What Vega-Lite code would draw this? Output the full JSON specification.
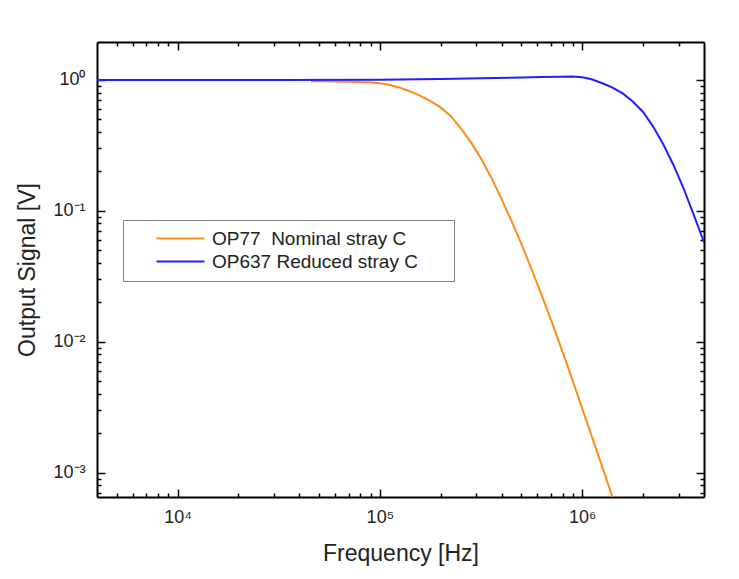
{
  "$schema": "https://vega.github.io/schema/vega-lite/v6.json",
  "width": 607,
  "height": 455,
  "autosize": "none",
  "padding": {"left": 97, "top": 42, "right": 35, "bottom": 82},
  "background": "white",
  "config": {"view": {"stroke": null}, "font": "Liberation Sans"},
  "data": {"values": [
    {"series": "OP77\u00a0 Nominal stray C", "f": 45700, "v": 0.977},
    {"series": "OP77\u00a0 Nominal stray C", "f": 70800, "v": 0.970},
    {"series": "OP77\u00a0 Nominal stray C", "f": 89100, "v": 0.959},
    {"series": "OP77\u00a0 Nominal stray C", "f": 100000, "v": 0.944},
    {"series": "OP77\u00a0 Nominal stray C", "f": 112200, "v": 0.916},
    {"series": "OP77\u00a0 Nominal stray C", "f": 125900, "v": 0.871},
    {"series": "OP77\u00a0 Nominal stray C", "f": 141300, "v": 0.817},
    {"series": "OP77\u00a0 Nominal stray C", "f": 158500, "v": 0.755},
    {"series": "OP77\u00a0 Nominal stray C", "f": 177800, "v": 0.689},
    {"series": "OP77\u00a0 Nominal stray C", "f": 199500, "v": 0.617},
    {"series": "OP77\u00a0 Nominal stray C", "f": 223900, "v": 0.531},
    {"series": "OP77\u00a0 Nominal stray C", "f": 251200, "v": 0.427},
    {"series": "OP77\u00a0 Nominal stray C", "f": 281800, "v": 0.335},
    {"series": "OP77\u00a0 Nominal stray C", "f": 316200, "v": 0.251},
    {"series": "OP77\u00a0 Nominal stray C", "f": 354800, "v": 0.180},
    {"series": "OP77\u00a0 Nominal stray C", "f": 398100, "v": 0.1245},
    {"series": "OP77\u00a0 Nominal stray C", "f": 446700, "v": 0.0841},
    {"series": "OP77\u00a0 Nominal stray C", "f": 501200, "v": 0.0556},
    {"series": "OP77\u00a0 Nominal stray C", "f": 562300, "v": 0.0359},
    {"series": "OP77\u00a0 Nominal stray C", "f": 631000, "v": 0.0226},
    {"series": "OP77\u00a0 Nominal stray C", "f": 707900, "v": 0.0141},
    {"series": "OP77\u00a0 Nominal stray C", "f": 794300, "v": 0.00861},
    {"series": "OP77\u00a0 Nominal stray C", "f": 891300, "v": 0.00519},
    {"series": "OP77\u00a0 Nominal stray C", "f": 1000000, "v": 0.00309},
    {"series": "OP77\u00a0 Nominal stray C", "f": 1122000, "v": 0.00184},
    {"series": "OP77\u00a0 Nominal stray C", "f": 1259000, "v": 0.001096},
    {"series": "OP77\u00a0 Nominal stray C", "f": 1413000, "v": 0.000646},
    {"series": "OP637 Reduced stray C", "f": 4000, "v": 1.0},
    {"series": "OP637 Reduced stray C", "f": 10000, "v": 1.0},
    {"series": "OP637 Reduced stray C", "f": 31600, "v": 1.001},
    {"series": "OP637 Reduced stray C", "f": 100000, "v": 1.005},
    {"series": "OP637 Reduced stray C", "f": 199500, "v": 1.016},
    {"series": "OP637 Reduced stray C", "f": 316200, "v": 1.030},
    {"series": "OP637 Reduced stray C", "f": 501200, "v": 1.045},
    {"series": "OP637 Reduced stray C", "f": 631000, "v": 1.052},
    {"series": "OP637 Reduced stray C", "f": 794300, "v": 1.059},
    {"series": "OP637 Reduced stray C", "f": 891300, "v": 1.062},
    {"series": "OP637 Reduced stray C", "f": 1000000, "v": 1.050},
    {"series": "OP637 Reduced stray C", "f": 1059000, "v": 1.030},
    {"series": "OP637 Reduced stray C", "f": 1122000, "v": 1.007},
    {"series": "OP637 Reduced stray C", "f": 1259000, "v": 0.944},
    {"series": "OP637 Reduced stray C", "f": 1413000, "v": 0.875},
    {"series": "OP637 Reduced stray C", "f": 1585000, "v": 0.789},
    {"series": "OP637 Reduced stray C", "f": 1778000, "v": 0.684},
    {"series": "OP637 Reduced stray C", "f": 2000000, "v": 0.569},
    {"series": "OP637 Reduced stray C", "f": 2239000, "v": 0.442},
    {"series": "OP637 Reduced stray C", "f": 2512000, "v": 0.324},
    {"series": "OP637 Reduced stray C", "f": 2818000, "v": 0.226},
    {"series": "OP637 Reduced stray C", "f": 3162000, "v": 0.150},
    {"series": "OP637 Reduced stray C", "f": 3548000, "v": 0.0944},
    {"series": "OP637 Reduced stray C", "f": 4000000, "v": 0.0575}
  ]},
  "layer": [
    {
      "mark": {"type": "line", "strokeWidth": 2, "clip": true},
      "encoding": {
        "x": {
          "field": "f", "type": "quantitative",
          "scale": {"type": "log", "domain": [4000, 4000000], "nice": false},
          "axis": {
            "orient": "bottom",
            "values": [5000, 6000, 7000, 8000, 9000, 10000, 20000, 30000, 40000, 50000, 60000, 70000, 80000, 90000, 100000, 200000, 300000, 400000, 500000, 600000, 700000, 800000, 900000, 1000000, 2000000, 3000000],
            "labelExpr": "datum.value == 10000 ? '10⁴' : datum.value == 100000 ? '10⁵' : datum.value == 1000000 ? '10⁶' : ''",
            "tickSize": {"condition": {"test": "datum.value == 10000 || datum.value == 100000 || datum.value == 1000000", "value": -8}, "value": -4},
            "tickWidth": 1.5, "tickColor": "black",
            "domainColor": "black", "domainWidth": 2,
            "labelFontSize": 18, "labelColor": "#222", "labelPadding": 19,
            "labelOverlap": false, "labelFlush": false, "grid": false,
            "title": "Frequency [Hz]", "titleFontSize": 23, "titleFontWeight": "normal",
            "titleColor": "#222", "titlePadding": 12
          }
        },
        "y": {
          "field": "v", "type": "quantitative",
          "scale": {"type": "log", "domain": [0.00065, 1.95], "nice": false},
          "axis": {
            "orient": "left",
            "values": [0.0007, 0.0008, 0.0009, 0.001, 0.002, 0.003, 0.004, 0.005, 0.006, 0.007, 0.008, 0.009, 0.01, 0.02, 0.03, 0.04, 0.05, 0.06, 0.07, 0.08, 0.09, 0.1, 0.2, 0.3, 0.4, 0.5, 0.6, 0.7, 0.8, 0.9, 1],
            "labelExpr": "datum.value == 1 ? '10⁰' : datum.value == 0.1 ? '10⁻¹' : datum.value == 0.01 ? '10⁻²' : datum.value == 0.001 ? '10⁻³' : ''",
            "tickSize": {"condition": {"test": "datum.value == 1 || datum.value == 0.1 || datum.value == 0.01 || datum.value == 0.001", "value": -8}, "value": -4},
            "tickWidth": 1.5, "tickColor": "black",
            "domainColor": "black", "domainWidth": 2,
            "labelFontSize": 18, "labelColor": "#222", "labelPadding": 20,
            "labelOverlap": false, "labelFlush": false, "grid": false,
            "title": "Output Signal [V]", "titleFontSize": 23, "titleFontWeight": "normal",
            "titleColor": "#222", "titlePadding": 13
          }
        },
        "color": {
          "field": "series", "type": "nominal",
          "scale": {"domain": ["OP77\u00a0 Nominal stray C", "OP637 Reduced stray C"], "range": ["#ff8c1a", "#1f1fff"]},
          "legend": {
            "orient": "none", "legendX": 26, "legendY": 178, "title": null,
            "symbolType": "M-5,0H1", "symbolSize": 256, "symbolStrokeWidth": 2,
            "labelFontSize": 19, "labelFont": "Liberation Sans", "labelColor": "#222",
            "labelLimit": 500, "labelOffset": 6,
            "labelExpr": "datum.label + '\u00a0\u00a0\u00a0\u00a0\u00a0\u200b'",
            "strokeColor": "#808080", "fillColor": "white",
            "padding": 9, "symbolOffset": 55, "rowPadding": 3
          }
        }
      }
    },
    {
      "mark": {"type": "line", "opacity": 0},
      "encoding": {
        "x": {
          "field": "f", "type": "quantitative",
          "scale": {"type": "log", "domain": [4000, 4000000], "nice": false},
          "axis": {
            "orient": "top",
            "values": [5000, 6000, 7000, 8000, 9000, 10000, 20000, 30000, 40000, 50000, 60000, 70000, 80000, 90000, 100000, 200000, 300000, 400000, 500000, 600000, 700000, 800000, 900000, 1000000, 2000000, 3000000],
            "labels": false, "title": null,
            "tickSize": {"condition": {"test": "datum.value == 10000 || datum.value == 100000 || datum.value == 1000000", "value": -8}, "value": -4},
            "tickWidth": 1.5, "tickColor": "black",
            "domainColor": "black", "domainWidth": 2, "grid": false
          }
        },
        "y": {
          "field": "v", "type": "quantitative",
          "scale": {"type": "log", "domain": [0.00065, 1.95], "nice": false},
          "axis": {
            "orient": "right",
            "values": [0.0007, 0.0008, 0.0009, 0.001, 0.002, 0.003, 0.004, 0.005, 0.006, 0.007, 0.008, 0.009, 0.01, 0.02, 0.03, 0.04, 0.05, 0.06, 0.07, 0.08, 0.09, 0.1, 0.2, 0.3, 0.4, 0.5, 0.6, 0.7, 0.8, 0.9, 1],
            "labels": false, "title": null,
            "tickSize": {"condition": {"test": "datum.value == 1 || datum.value == 0.1 || datum.value == 0.01 || datum.value == 0.001", "value": -8}, "value": -4},
            "tickWidth": 1.5, "tickColor": "black",
            "domainColor": "black", "domainWidth": 2, "grid": false
          }
        },
        "detail": {"field": "series", "type": "nominal"}
      }
    }
  ],
  "resolve": {"scale": {"x": "independent", "y": "independent"}}
}
